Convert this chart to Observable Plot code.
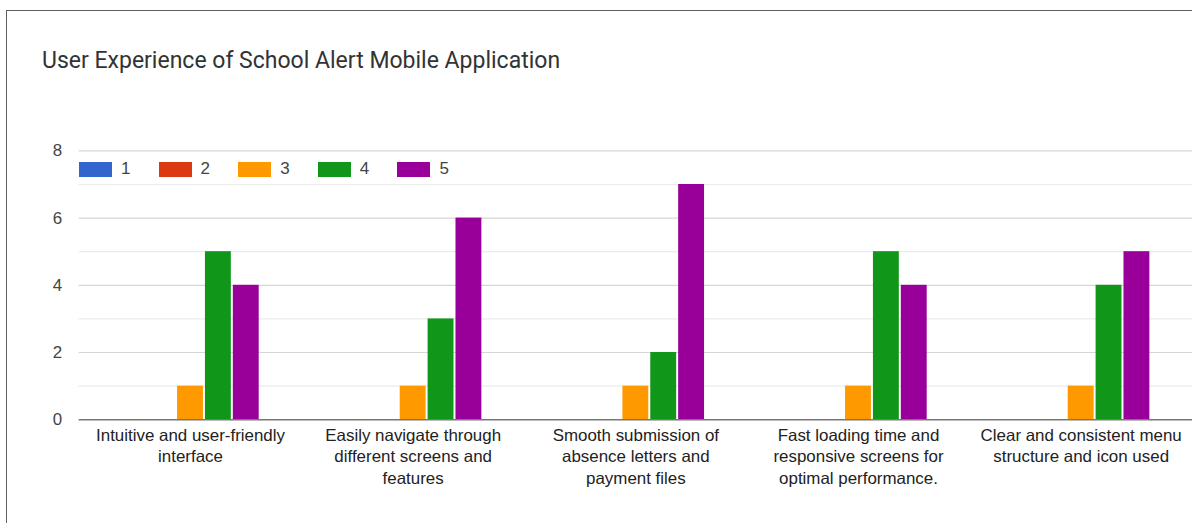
<!DOCTYPE html>
<html>
<head>
<meta charset="utf-8">
<script src="https://cdn.jsdelivr.net/npm/d3@7"></script>
<script src="https://cdn.jsdelivr.net/npm/@observablehq/plot@0.6"></script>
<style>
  html, body { margin: 0; padding: 0; width: 1192px; height: 523px; overflow: hidden; background: #fff; }
  #card { position: absolute; left: 6px; top: 10px; width: 1300px; height: 600px;
          border-left: 1.5px solid #5f5f5f; border-top: 1.5px solid #5f5f5f; box-sizing: border-box; }
  #grid, #chart { position: absolute; left: 0; top: 0; }
  #title { position: absolute; left: 42px; top: 47px; font-family: Roboto, sans-serif; font-size: 23px;
           line-height: 28px; color: #333; white-space: nowrap; }
  #legend { position: absolute; left: 0; top: 0; font-family: "Liberation Sans", Arial, sans-serif; font-size: 17px; color: #444; }
  .item { position: absolute; top: 160px; height: 18px; display: flex; align-items: center; white-space: nowrap; }
  .sw { width: 33px; height: 15px; display: inline-block; margin-right: 9px; }
</style>
</head>
<body>
<div id="card"></div>
<div id="grid"></div>
<div id="chart"></div>
<div id="title"></div>
<div id="legend"></div>
<script>
const title = "User Experience of School Alert Mobile Application";
const categories = [
  "Intuitive and user-friendly interface",
  "Easily navigate through different screens and features",
  "Smooth submission of absence letters and payment files",
  "Fast loading time and responsive screens for optimal performance.",
  "Clear and consistent menu structure and icon used"
];
const categoryLabels = [
  "Intuitive and user-friendly\ninterface",
  "Easily navigate through\ndifferent screens and\nfeatures",
  "Smooth submission of\nabsence letters and\npayment files",
  "Fast loading time and\nresponsive screens for\noptimal performance.",
  "Clear and consistent menu\nstructure and icon used"
];
const series = ["1", "2", "3", "4", "5"];
const colors = ["#3366cc", "#dc3912", "#ff9900", "#109618", "#990099"];
const values1 = [0, 0, 0, 0, 0];
const values2 = [0, 0, 0, 0, 0];
const values3 = [1, 1, 1, 1, 1];
const values4 = [5, 3, 2, 5, 4];
const values5 = [4, 6, 7, 4, 5];
const yTicks = [0, 2, 4, 6, 8];
const minorTicks = [1, 3, 5, 7];

const allValues = [values1, values2, values3, values4, values5];
const rows = [];
categories.forEach((c, i) => series.forEach((s, j) => rows.push({category: c, series: s, value: allValues[j][i]})));
const labelRows = categories.map((c, i) => ({category: c, label: categoryLabels[i]}));

const common = {
  width: 1197,
  height: 523,
  marginLeft: 79,
  marginRight: 0,
  marginTop: 151,
  marginBottom: 102,
  style: {fontFamily: "'Liberation Sans', Arial, sans-serif", fontSize: "17px", background: "transparent"},
  y: {domain: [0, 8], axis: null}
};

// background gridlines spanning the full frame
const grid = Plot.plot({
  ...common,
  marks: [
    Plot.ruleY(minorTicks, {stroke: "#ebebeb", strokeWidth: 1.2}),
    Plot.ruleY(yTicks.filter(d => d > 0), {stroke: "#d6d6d6", strokeWidth: 1.2}),
    Plot.axisY({ticks: yTicks, tickSize: 0, tickPadding: 17, fill: "#444", fontSize: 17})
  ]
});
document.getElementById("grid").appendChild(grid);

const chart = Plot.plot({
  ...common,
  fx: {domain: categories, paddingInner: 0.374, paddingOuter: 0.187, round: false, axis: null},
  x: {domain: series, paddingInner: 0.0714, paddingOuter: 0.0357, round: false, axis: null},
  color: {domain: series, range: colors},
  marks: [
    Plot.barY(rows, {fx: "category", x: "series", y: "value", fill: "series"}),
    Plot.text(labelRows, {fx: "category", text: "label", frameAnchor: "bottom", lineAnchor: "top",
      dy: 6, lineHeight: 1.27, fill: "#222", fontSize: 17})
  ]
});
document.getElementById("chart").appendChild(chart);

// baseline across the full frame, drawn on top of the bars
const base = Plot.plot({
  ...common,
  marks: [Plot.ruleY([0], {stroke: "#777", strokeWidth: 1.6})]
});
base.style.position = "absolute";
base.style.left = "0px";
base.style.top = "0px";
document.body.appendChild(base);

document.getElementById("title").textContent = title;

const legend = document.getElementById("legend");
series.forEach((s, i) => {
  const item = document.createElement("div");
  item.className = "item";
  item.style.left = (79 + i * 79.6) + "px";
  const sw = document.createElement("span");
  sw.className = "sw";
  sw.style.background = colors[i];
  const lab = document.createElement("span");
  lab.textContent = s;
  item.appendChild(sw);
  item.appendChild(lab);
  legend.appendChild(item);
});
</script>
</body>
</html>
